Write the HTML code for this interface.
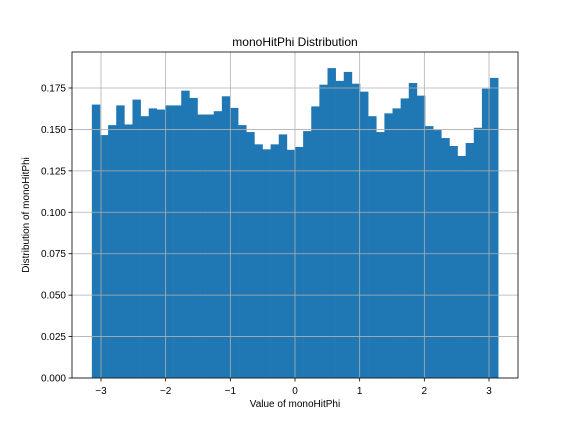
<!DOCTYPE html>
<html><head><meta charset="utf-8"><style>
body{margin:0;background:#fff;font-family:"Liberation Sans","DejaVu Sans",sans-serif;}
svg text{font-family:"Liberation Sans","DejaVu Sans",sans-serif;fill:#000;}
</style></head><body>
<svg id="chart" width="576" height="432" xmlns="http://www.w3.org/2000/svg">
<rect width="576" height="432" fill="#fff"/>
<g id="bars"></g>
<g id="grid"></g>
<g id="axes"></g>
<text x="295" y="46" font-size="12" text-anchor="middle">monoHitPhi Distribution</text>
<text x="295" y="407" font-size="10" text-anchor="middle">Value of monoHitPhi</text>
<text transform="translate(29,215) rotate(-90)" font-size="10" text-anchor="middle">Distribution of monoHitPhi</text>
</svg>
<script>
const values=[0.1650,0.1466,0.1526,0.1645,0.1530,0.1680,0.1580,0.1627,0.1620,0.1645,0.1645,0.1734,0.1690,0.1590,0.1590,0.1610,0.1700,0.1630,0.1526,0.1484,0.1410,0.1380,0.1410,0.1470,0.1377,0.1394,0.1490,0.1639,0.1770,0.1870,0.1793,0.1847,0.1776,0.1728,0.1580,0.1484,0.1597,0.1627,0.1687,0.1780,0.1704,0.1520,0.1496,0.1448,0.1400,0.1340,0.1418,0.1510,0.1746,0.1811];
const xTicks=[-3,-2,-1,0,1,2,3];
const yTicks=[0,0.025,0.05,0.075,0.1,0.125,0.15,0.175];
const xmin=-Math.PI,xmax=Math.PI;
const L=72,R=518,T=52,B=378;
const xs=v=>101+(v+3)*(388/6);
const ys=v=>378-v*(290/0.175);
const NS="http://www.w3.org/2000/svg";
function mk(t,a,p){const e=document.createElementNS(NS,t);for(const k in a)e.setAttribute(k,a[k]);p.appendChild(e);return e;}
const bars=document.getElementById('bars'),grid=document.getElementById('grid'),axes=document.getElementById('axes');
const w=(xmax-xmin)/values.length;
values.forEach((v,i)=>{
 const x0=xs(xmin+i*w),x1=xs(xmin+(i+1)*w);
 const r=mk('rect',{x:x0,y:ys(v),width:x1-x0+0.3,height:ys(0)-ys(v),fill:'#1f77b4'},bars);
 
 
});
xTicks.forEach(t=>{
 const x=xs(t);
 const g=mk('line',{x1:x,x2:x,y1:T,y2:B,stroke:'#b0b0b0','stroke-width':0.8},grid);
 
 
 mk('line',{x1:x,x2:x,y1:B,y2:B+3.5,stroke:'#000','stroke-width':0.8},axes);
 const tx=mk('text',{x:x,y:B+16,'font-size':10,'text-anchor':'middle'},axes);
 tx.textContent=(t<0?'\u2212'+(-t):''+t);
 
 
});
yTicks.forEach(t=>{
 const y=ys(t);
 const g=mk('line',{x1:L,x2:R,y1:y,y2:y,stroke:'#b0b0b0','stroke-width':0.8},grid);
 
 
 mk('line',{x1:L-3.5,x2:L,y1:y,y2:y,stroke:'#000','stroke-width':0.8},axes);
 const tx=mk('text',{x:L-6,y:y+3.5,'font-size':10,'text-anchor':'end'},axes);
 tx.textContent=t.toFixed(3);
 
 
});
const f=mk('rect',{x:L,y:T,width:R-L,height:B-T,fill:'none',stroke:'#000','stroke-width':0.8},axes);


</script>
</body></html>
